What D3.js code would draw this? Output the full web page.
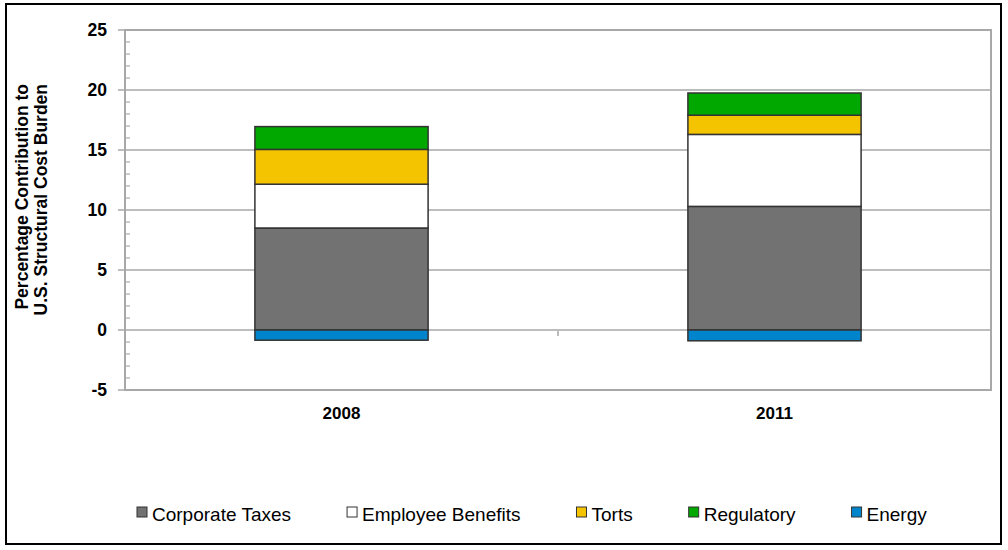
<!DOCTYPE html>
<html>
<head>
<meta charset="utf-8">
<script src="https://cdn.jsdelivr.net/npm/d3@7"></script>
<style>
  body { margin: 0; background: #fff; }
  svg text { font-family: Arial, "Liberation Sans", sans-serif; fill: #000; }
</style>
</head>
<body>
<svg id="chart" width="1008" height="550"></svg>
<script>
'use strict';

// chart values
var years = ['2008', '2011'];
var seriesNames = ['Corporate Taxes', 'Employee Benefits', 'Torts', 'Regulatory', 'Energy'];
var seriesColors = ['#727272', '#ffffff', '#f5c400', '#00a800', '#0085cc'];
var corporateTaxes = [8.5, 10.3];
var employeeBenefits = [3.65, 6.0];
var torts = [2.9, 1.6];
var regulatory = [1.9, 1.85];
var energy = [-0.85, -0.9];
var yTicks = [-5, 0, 5, 10, 15, 20, 25];

var svg = d3.select('#chart');

// outer frame
svg.append('rect')
  .attr('x', 6).attr('y', 4)
  .attr('width', 995).attr('height', 540)
  .attr('fill', 'none')
  .attr('stroke', '#000')
  .attr('stroke-width', 2);

var plot = { left: 125, top: 30, right: 991, bottom: 390 };

var y = d3.scaleLinear()
  .domain([-5, 25])
  .range([plot.bottom, plot.top]);

var x = d3.scaleBand()
  .domain(years)
  .range([plot.left, plot.right])
  .paddingInner(0.6)
  .paddingOuter(0.3);

// gridlines
svg.append('g')
  .selectAll('line')
  .data(yTicks)
  .enter().append('line')
  .attr('x1', plot.left - 7)
  .attr('x2', plot.right)
  .attr('y1', function(d) { return y(d); })
  .attr('y2', function(d) { return y(d); })
  .attr('stroke', '#bdbdbd')
  .attr('stroke-width', 2);

// minor ticks, inside the axis
svg.append('g')
  .selectAll('line')
  .data(d3.range(-5, 26).filter(function(d) { return d % 5 !== 0; }))
  .enter().append('line')
  .attr('x1', plot.left)
  .attr('x2', plot.left + 5)
  .attr('y1', function(d) { return y(d); })
  .attr('y2', function(d) { return y(d); })
  .attr('stroke', '#bdbdbd')
  .attr('stroke-width', 1.5);

// plot border
svg.append('rect')
  .attr('x', plot.left).attr('y', plot.top)
  .attr('width', plot.right - plot.left)
  .attr('height', plot.bottom - plot.top)
  .attr('fill', 'none')
  .attr('stroke', '#a8a8a8')
  .attr('stroke-width', 2);

// category divider tick on the zero line
svg.append('g')
  .selectAll('line')
  .data(years.slice(1))
  .enter().append('line')
  .attr('x1', function(d) { return x(d) - x.step() * x.paddingInner() / 2; })
  .attr('x2', function(d) { return x(d) - x.step() * x.paddingInner() / 2; })
  .attr('y1', y(0))
  .attr('y2', y(0) + 6)
  .attr('stroke', '#bdbdbd')
  .attr('stroke-width', 2);

// y tick labels
svg.append('g')
  .selectAll('text')
  .data(yTicks)
  .enter().append('text')
  .attr('x', 107)
  .attr('y', function(d) { return y(d); })
  .attr('dy', '0.35em')
  .attr('text-anchor', 'end')
  .attr('font-size', 17.5)
  .attr('font-weight', 'bold')
  .text(function(d) { return d; });

// x labels
svg.append('g')
  .selectAll('text')
  .data(years)
  .enter().append('text')
  .attr('x', function(d) { return x(d) + x.bandwidth() / 2; })
  .attr('y', 419)
  .attr('text-anchor', 'middle')
  .attr('font-size', 17)
  .attr('font-weight', 'bold')
  .text(function(d) { return d; });

// y title, two lines aligned to the top
var titleLines = ['Percentage Contribution to', 'U.S. Structural Cost Burden'];
svg.append('g')
  .selectAll('text')
  .data(titleLines)
  .enter().append('text')
  .attr('transform', function(d, i) { return 'translate(' + (28 + i * 19) + ',84) rotate(-90)'; })
  .attr('text-anchor', 'end')
  .attr('font-size', 17.5)
  .attr('font-weight', 'bold')
  .text(function(d) { return d; });

// stacked bars
var rows = years.map(function(yr, i) {
  return {
    year: yr,
    values: [corporateTaxes[i], employeeBenefits[i], torts[i], regulatory[i], energy[i]]
  };
});

var segments = [];
rows.forEach(function(r) {
  var pos = 0, neg = 0;
  r.values.forEach(function(v, k) {
    var y0, y1;
    if (v >= 0) { y0 = pos; y1 = pos + v; pos = y1; }
    else { y0 = neg + v; y1 = neg; neg = y0; }
    segments.push({ year: r.year, k: k, y0: y0, y1: y1 });
  });
});

svg.append('g')
  .selectAll('rect')
  .data(segments)
  .enter().append('rect')
  .attr('x', function(d) { return x(d.year); })
  .attr('width', x.bandwidth())
  .attr('y', function(d) { return y(d.y1); })
  .attr('height', function(d) { return y(d.y0) - y(d.y1); })
  .attr('fill', function(d) { return seriesColors[d.k]; })
  .attr('stroke', '#333')
  .attr('stroke-width', 1.5);

// legend
var legend = svg.append('g');
var lx = 137;
seriesNames.forEach(function(name, k) {
  legend.append('rect')
    .attr('x', lx).attr('y', 507)
    .attr('width', 10).attr('height', 10)
    .attr('fill', seriesColors[k])
    .attr('stroke', '#333')
    .attr('stroke-width', 1);
  var t = legend.append('text')
    .attr('x', lx + 15)
    .attr('y', 521)
    .attr('font-size', 19)
    .text(name);
  lx = lx + 15 + t.node().getComputedTextLength() + 56;
});
</script>
</body>
</html>
